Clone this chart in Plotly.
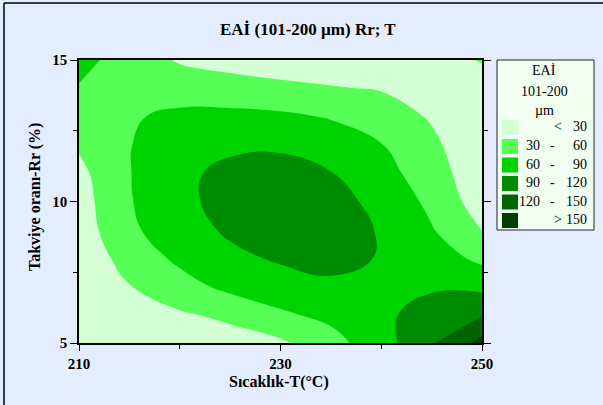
import plotly.graph_objects as go

# Data
temperature = [210, 215, 220, 225, 230, 235, 240, 245, 250]          # T (°C)
ratio = [5, 6, 7, 8, 9, 10, 11, 12, 13, 14, 15]                      # Rr (%)
eai = [
    [6, 12, 16, 18, 25, 50, 77, 117, 160],     # Rr = 5
    [7, 22, 26.6, 36, 56, 67, 85, 100, 118],   # 6
    [9, 29, 48, 68, 76, 87, 84, 87, 82],       # 7
    [11, 41, 66.6, 83, 94, 95, 89, 75, 53],    # 8
    [14, 55, 76, 95, 104, 102, 88, 62, 29.5],  # 9
    [17.5, 58, 83, 100, 108, 100, 82, 53, 15], # 10
    [22.4, 59, 83, 98, 102, 91, 71, 44, 10],   # 11
    [34, 59, 76, 84, 85, 75, 61, 36, 8],       # 12
    [46, 57, 66, 67, 65, 58, 45, 27, 8],       # 13
    [58, 50, 47, 44, 38, 32, 28, 22, 10],      # 14
    [70, 46, 27, 18, 12, 12, 12, 12, 33],      # 15
]
levels_start, levels_end, levels_size = 30, 150, 30
band_colors = ["#D4FFD4", "#55FF55", "#00D400", "#008C00", "#006400", "#003F00"]
band_labels = [("", "<", "30"), ("30", "-", "60"), ("60", "-", "90"),
               ("90", "-", "120"), ("120", "-", "150"), ("", ">", "150")]
x_ticks = [210, 230, 250]
x_minor = [220, 240]
y_ticks = [5, 10, 15]
y_minor = [7.5, 12.5]

W, H = 603, 405
L, R, T, B = 79, 482, 60, 343
FONT = "Liberation Serif"
BG = "#E4EDFD"


def px(x):
    return (x - L) / (R - L)


def py(y):
    return (B - y) / (B - T)


n = len(band_colors)
colorscale = [[i / (n - 1), c] for i, c in enumerate(band_colors)]

fig = go.Figure(go.Contour(
    x=temperature, y=ratio, z=eai,
    contours=dict(start=levels_start, end=levels_end, size=levels_size,
                  coloring="fill", showlines=False),
    colorscale=colorscale, showscale=False,
    line=dict(width=0, smoothing=1.3),
    hoverinfo="skip",
))

axis_font = dict(family=FONT, size=15, color="black", weight="bold")
fig.update_xaxes(range=[210, 250], tickvals=x_ticks, ticks="outside", ticklen=6,
                 tickwidth=1, tickcolor="black", showline=True, linecolor="black",
                 linewidth=1.5, mirror=True, showgrid=False, zeroline=False,
                 tickfont=axis_font, ticklabelstandoff=0,
                 minor=dict(tickvals=x_minor, ticks="outside", ticklen=4, tickcolor="black"))
fig.update_yaxes(range=[5, 15], tickvals=y_ticks, ticks="outside", ticklen=7,
                 tickwidth=1, tickcolor="black", showline=True, linecolor="black",
                 linewidth=1.5, mirror="ticks", showgrid=False, zeroline=False,
                 tickfont=axis_font, ticklabelstandoff=0,
                 minor=dict(tickvals=y_minor, ticks="outside", ticklen=4, tickcolor="black"))

shapes = []
annotations = []

# outer frame (left and top edges visible)
shapes.append(dict(type="line", xref="paper", yref="paper", x0=px(4), x1=px(W + 5),
                   y0=py(3), y1=py(3), line=dict(color="black", width=1.5)))
shapes.append(dict(type="line", xref="paper", yref="paper", x0=px(4), x1=px(4),
                   y0=py(3), y1=py(H + 5), line=dict(color="black", width=1.5)))

# legend box
lx0, lx1, ly0, ly1 = 497, 594, 60, 230
shapes.append(dict(type="rect", xref="paper", yref="paper", x0=px(lx0), x1=px(lx1),
                   y0=py(ly1), y1=py(ly0), fillcolor="#F0FFF0",
                   line=dict(color="#222222", width=1)))
leg_font = dict(family=FONT, size=14, color="black")
for txt, yy in [("EAİ", 70), ("101-200", 91.5), ("µm", 110)]:
    annotations.append(dict(xref="paper", yref="paper", x=px(544), y=py(yy), text=txt,
                            showarrow=False, font=leg_font, xanchor="center", yanchor="middle"))
row_y = [127.5, 146.5, 165, 183.5, 202, 220.5]
for (lo, mid, hi), c, yy in zip(band_labels, band_colors, row_y):
    shapes.append(dict(type="rect", xref="paper", yref="paper", x0=px(502), x1=px(518),
                       y0=py(yy + 7.5), y1=py(yy - 7.5), fillcolor=c, line=dict(width=0)))
    if lo:
        annotations.append(dict(xref="paper", yref="paper", x=px(542), y=py(yy - 1), text=lo,
                                showarrow=False, font=leg_font, xanchor="right", yanchor="middle"))
        annotations.append(dict(xref="paper", yref="paper", x=px(552), y=py(yy - 1), text=mid,
                                showarrow=False, font=leg_font, xanchor="center", yanchor="middle"))
    else:
        annotations.append(dict(xref="paper", yref="paper", x=px(558), y=py(yy - 1), text=mid,
                                showarrow=False, font=leg_font, xanchor="center", yanchor="middle"))
    annotations.append(dict(xref="paper", yref="paper", x=px(589), y=py(yy - 1), text=hi,
                            showarrow=False, font=leg_font, xanchor="right", yanchor="middle"))

title_font = dict(family=FONT, size=17, color="black", weight="bold")
axt_font = dict(family=FONT, size=16, color="black", weight="bold")
annotations.append(dict(xref="paper", yref="paper", x=px(307.5), y=py(30),
                        text="EAİ (101-200 µm) Rr; T", showarrow=False, font=title_font,
                        xanchor="center", yanchor="middle"))
annotations.append(dict(xref="paper", yref="paper", x=px(279), y=py(382),
                        text="Sıcaklık-T(°C)", showarrow=False, font=axt_font,
                        xanchor="center", yanchor="middle"))
annotations.append(dict(xref="paper", yref="paper", x=px(35), y=py(197),
                        text="Takviye oranı-Rr (%)", showarrow=False, font=axt_font,
                        textangle=-90, xanchor="center", yanchor="middle"))

fig.update_layout(
    width=W, height=H,
    margin=dict(l=L, r=W - R, t=T, b=H - B, pad=0),
    paper_bgcolor=BG, plot_bgcolor=BG,
    shapes=shapes, annotations=annotations,
    showlegend=False,
    font=dict(family=FONT),
)

fig.write_html("out.html", config={"displayModeBar": False},
               post_script="document.body.style.margin='0';document.body.style.padding='0';")
